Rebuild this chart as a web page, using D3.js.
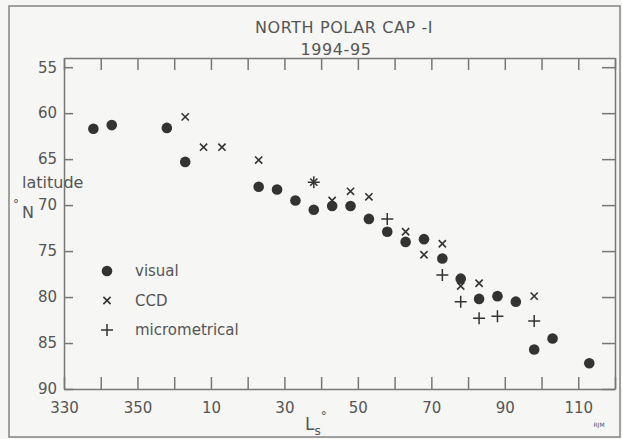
<!DOCTYPE html>
<html>
<head>
<meta charset="utf-8">
<script src="https://cdn.jsdelivr.net/npm/d3@7"></script>
<style>
	html, body { margin: 0; padding: 0; background: #f6f6f4; }
	svg { display: block; }
	text { font-family: "DejaVu Sans", sans-serif; fill: #555; }
</style>
</head>
<body>
<div id="chart"></div>
<script>
var WIDTH = 622;
var HEIGHT = 439;

// Ls (deg) and latitude (deg N)
var visualLs  = [338, 343, 358, 3, 23, 28, 33, 38, 43, 48, 53, 58, 63, 68, 73, 78, 83, 88, 93, 98, 103, 113];
var visualLat = [61.7, 61.3, 61.6, 65.3, 68.0, 68.3, 69.5, 70.5, 70.1, 70.1, 71.5, 72.9, 74.0, 73.7, 75.8, 78.0, 80.2, 79.9, 80.5, 85.7, 84.5, 87.2];

var ccdLs  = [3, 8, 13, 23, 38, 43, 48, 53, 58, 63, 68, 73, 78, 83, 88, 98];
var ccdLat = [60.4, 63.7, 63.7, 65.1, 67.5, 69.5, 68.5, 69.1, 72.9, 72.9, 75.4, 74.2, 78.8, 78.5, 79.9, 79.9];

var microLs  = [38, 58, 73, 78, 83, 88, 98];
var microLat = [67.5, 71.5, 77.6, 80.5, 82.3, 82.1, 82.6];

var latTicks = [55, 60, 65, 70, 75, 80, 85, 90];
var lsTickLabels = [330, 350, 10, 30, 50, 70, 90, 110];
var legendLabels = ["visual", "CCD", "micrometrical"];

// plot frame
var margin = { top: 58, right: 7, bottom: 50, left: 64 };
var plotWidth = WIDTH - margin.left - margin.right;
var plotHeight = HEIGHT - margin.top - margin.bottom;

// Ls wraps through 360 -> continuous axis from -30 to 120
function unwrap(ls) { return ls >= 300 ? ls - 360 : ls; }
function wrapLabel(v) { return ((v % 360) + 360) % 360; }

var svg = d3.select("#chart").append("svg")
	.attr("width", WIDTH).attr("height", HEIGHT);

// outer border
svg.append("rect")
	.attr("x", 9).attr("y", 6)
	.attr("width", 611).attr("height", 431)
	.attr("fill", "none")
	.attr("stroke", "#8a8a8a")
	.attr("stroke-width", 1.6);

var inner = svg.append("g")
	.attr("transform", `translate(${margin.left},${margin.top})`);

var xScale = d3.scaleLinear().domain([-30, 120]).range([0, plotWidth]);
var yScale = d3.scaleLinear().domain([54, 90]).range([0, plotHeight]);

var xTicks = d3.range(-30, 121, 10);
var xLabelSet = new Set(lsTickLabels.map(unwrap));

function styleAxis(g) {
	g.select(".domain").attr("stroke", "#777").attr("stroke-width", 1.5);
	g.selectAll(".tick line").attr("stroke", "#777").attr("stroke-width", 1.5);
	g.selectAll(".tick text")
		.style("font-size", "15px")
		.attr("fill", "#555");
}

// bottom axis, ticks pointing up
inner.append("g")
	.attr("transform", `translate(0,${plotHeight})`)
	.call(d3.axisBottom(xScale)
		.tickValues(xTicks)
		.tickSizeInner(-12).tickSizeOuter(0)
		.tickPadding(13)
		.tickFormat(d => xLabelSet.has(d) ? wrapLabel(d) : ""))
	.call(styleAxis);

// top axis, ticks pointing down
inner.append("g")
	.call(d3.axisTop(xScale)
		.tickValues(xTicks)
		.tickSizeInner(-12).tickSizeOuter(0)
		.tickFormat(""))
	.call(styleAxis);

// left axis
inner.append("g")
	.call(d3.axisLeft(yScale)
		.tickValues(latTicks)
		.tickSizeInner(-9).tickSizeOuter(0)
		.tickPadding(7))
	.call(styleAxis);

// right axis
inner.append("g")
	.attr("transform", `translate(${plotWidth},0)`)
	.call(d3.axisRight(yScale)
		.tickValues(latTicks)
		.tickSizeInner(-13).tickSizeOuter(0)
		.tickFormat(""))
	.call(styleAxis);

// markers
var markColor = "#333";

function drawDot(g, s) {
	g.append("circle").attr("r", s).attr("fill", markColor);
}
function drawCross(g, s) {
	g.append("path")
		.attr("d", `M${-s},${-s}L${s},${s}M${-s},${s}L${s},${-s}`)
		.attr("stroke", markColor).attr("stroke-width", 1.6).attr("fill", "none");
}
function drawPlus(g, s) {
	g.append("path")
		.attr("d", `M${-s},0L${s},0M0,${-s}L0,${s}`)
		.attr("stroke", markColor).attr("stroke-width", 1.5).attr("fill", "none");
}

function plotSeries(lsArr, latArr, drawFn, size) {
	lsArr.forEach((ls, i) => {
		var g = inner.append("g")
			.attr("transform", `translate(${xScale(unwrap(ls))},${yScale(latArr[i])})`);
		drawFn(g, size);
	});
}

plotSeries(visualLs, visualLat, drawDot, 5.3);
plotSeries(ccdLs, ccdLat, drawCross, 3.6);
plotSeries(microLs, microLat, drawPlus, 6);

// legend
var legend = svg.append("g");
var legendDraw = [drawDot, drawCross, drawPlus];
var legendSize = [5.3, 3.6, 6];
legendLabels.forEach((label, i) => {
	var y = 271 + i * 29.5;
	var g = legend.append("g").attr("transform", `translate(107,${y})`);
	legendDraw[i](g, legendSize[i]);
	legend.append("text")
		.attr("x", 135).attr("y", y)
		.attr("dy", "0.35em")
		.style("font-size", "15px")
		.text(label);
});

// title
svg.append("text")
	.attr("x", 344).attr("y", 33)
	.attr("text-anchor", "middle")
	.style("font-size", "16px")
	.style("letter-spacing", "0.6px")
	.text("NORTH POLAR CAP -I");
svg.append("text")
	.attr("x", 336).attr("y", 55)
	.attr("text-anchor", "middle")
	.style("font-size", "16px")
	.style("letter-spacing", "0.6px")
	.text("1994-95");

// y axis label
svg.append("text")
	.attr("x", 22).attr("y", 188)
	.style("font-size", "16px")
	.text("latitude");
svg.append("text")
	.attr("x", 13).attr("y", 208)
	.style("font-size", "12px")
	.text("°");
svg.append("text")
	.attr("x", 22).attr("y", 218)
	.style("font-size", "16px")
	.text("N");

// x axis label
var xl = svg.append("text")
	.attr("x", 305).attr("y", 430)
	.style("font-size", "17px");
xl.append("tspan").text("L");
xl.append("tspan").attr("dy", 5).style("font-size", "12px").text("s");
xl.append("tspan").attr("dy", -15).style("font-size", "12px").text("°");

// initials
svg.append("text")
	.attr("x", 599).attr("y", 427)
	.attr("text-anchor", "middle")
	.style("font-size", "6px")
	.attr("fill", "#888")
	.text("RJM");
</script>
</body>
</html>
